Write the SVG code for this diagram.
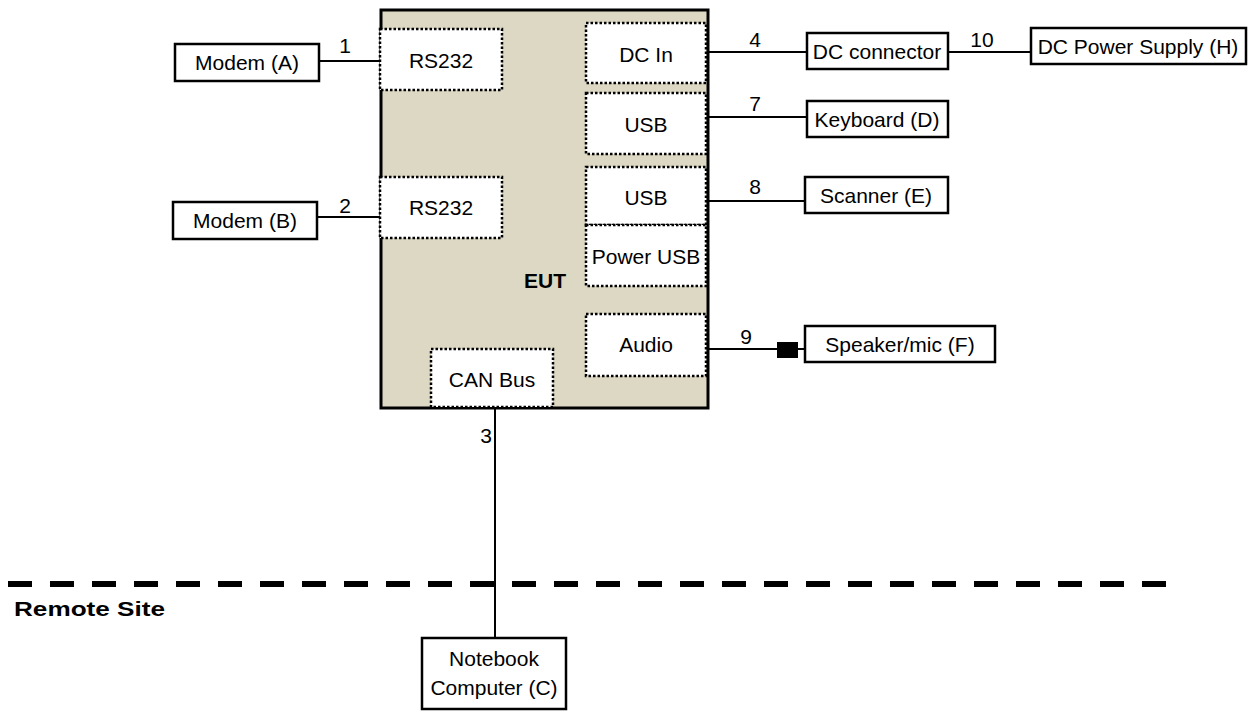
<svg xmlns="http://www.w3.org/2000/svg" width="1254" height="711" viewBox="0 0 1254 711">
<style>
text{font-family:"Liberation Sans",Arial,sans-serif;font-size:21px;fill:#000}
.c{text-anchor:middle}
.b{font-weight:bold}
.box{fill:#fff;stroke:#000;stroke-width:2.5}
.port{fill:#fff;stroke:#000;stroke-width:2.5;stroke-dasharray:2.5 2}
.ln{stroke:#000;stroke-width:2;fill:none}
</style>
<rect width="1254" height="711" fill="#fff"/>
<g id="connectors">
<line class="ln" x1="319" y1="61" x2="381" y2="61"/>
<line class="ln" x1="317" y1="217" x2="381" y2="217"/>
<line class="ln" x1="708" y1="52" x2="807" y2="52"/>
<line class="ln" x1="948" y1="52" x2="1031" y2="52"/>
<line class="ln" x1="708" y1="117" x2="807" y2="117"/>
<line class="ln" x1="708" y1="201" x2="805" y2="201"/>
<line class="ln" x1="708" y1="349" x2="805" y2="349"/>
<rect x="777" y="342" width="21" height="16" fill="#000"/>
<line class="ln" x1="495" y1="408" x2="495" y2="638" stroke-width="2.5"/>
<text class="c" x="345" y="53">1</text>
<text class="c" x="345" y="213">2</text>
<text class="c" x="486" y="443">3</text>
<text class="c" x="755" y="47">4</text>
<text class="c" x="982" y="47">10</text>
<text class="c" x="755" y="111">7</text>
<text class="c" x="755" y="194">8</text>
<text class="c" x="746" y="344">9</text>
</g>
<g id="boundary">
<line x1="8" y1="584" x2="1167" y2="584" stroke="#000" stroke-width="6" stroke-dasharray="24 18"/>
<text class="b" x="14" y="616" font-size="24" textLength="151" lengthAdjust="spacingAndGlyphs">Remote Site</text>
</g>
<g id="eut">
<rect x="381" y="10" width="327" height="398" fill="#DDD8C3" stroke="#000" stroke-width="3"/>
<text class="c b" x="545" y="288">EUT</text>
</g>
<g id="rs232-1"><rect class="port" x="380" y="29" width="122" height="61"/><text class="c" x="441" y="68">RS232</text></g>
<g id="rs232-2"><rect class="port" x="380" y="177" width="122" height="61"/><text class="c" x="441" y="215">RS232</text></g>
<g id="dc-in"><rect class="port" x="586" y="23" width="120" height="60"/><text class="c" x="646" y="62">DC In</text></g>
<g id="usb-1"><rect class="port" x="586" y="93" width="120" height="61"/><text class="c" x="646" y="132">USB</text></g>
<g id="usb-2"><rect class="port" x="586" y="167" width="120" height="58"/><text class="c" x="646" y="205">USB</text></g>
<g id="power-usb"><rect class="port" x="586" y="225" width="120" height="61"/><text class="c" x="646" y="264">Power USB</text></g>
<g id="audio"><rect class="port" x="586" y="314" width="120" height="62"/><text class="c" x="646" y="352">Audio</text></g>
<g id="can-bus"><rect class="port" x="431" y="349" width="122" height="58"/><text class="c" x="492" y="387">CAN Bus</text></g>
<g id="modem-a"><rect class="box" x="175" y="44" width="144" height="37"/><text class="c" x="247" y="70">Modem (A)</text></g>
<g id="modem-b"><rect class="box" x="173" y="202" width="144" height="37"/><text class="c" x="245" y="228">Modem (B)</text></g>
<g id="dc-connector"><rect class="box" x="807" y="33" width="141" height="36"/><text class="c" x="877" y="59">DC connector</text></g>
<g id="dc-power-supply"><rect class="box" x="1031" y="28" width="215" height="36"/><text class="c" x="1138" y="54">DC Power Supply (H)</text></g>
<g id="keyboard"><rect class="box" x="807" y="101" width="141" height="36"/><text class="c" x="877" y="127">Keyboard (D)</text></g>
<g id="scanner"><rect class="box" x="805" y="177" width="143" height="36"/><text class="c" x="876" y="203">Scanner (E)</text></g>
<g id="speaker-mic"><rect class="box" x="805" y="326" width="190" height="36"/><text class="c" x="900" y="352">Speaker/mic (F)</text></g>
<g id="notebook"><rect class="box" x="422" y="638" width="144" height="71"/><text class="c" x="494" y="666">Notebook</text><text class="c" x="494" y="695">Computer (C)</text></g>
</svg>
